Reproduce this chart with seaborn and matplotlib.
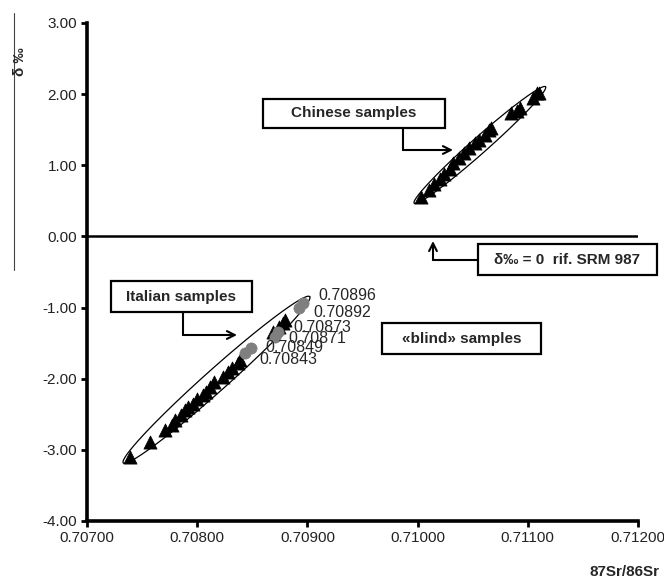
import numpy as np
import pandas as pd
import seaborn as sns
import matplotlib.pyplot as plt
from matplotlib.lines import Line2D
from matplotlib.patches import Rectangle

# values
chinese_sr = [0.71003, 0.71010, 0.71015, 0.71020, 0.71024, 0.71029, 0.71032, 0.71038,
              0.71042, 0.71047, 0.71052, 0.71056, 0.71061, 0.71065, 0.71067, 0.71085,
              0.71090, 0.71093, 0.71105, 0.71108, 0.71110]
chinese_delta = [0.55, 0.65, 0.74, 0.81, 0.88, 0.95, 1.03, 1.10, 1.17, 1.24, 1.31,
                 1.35, 1.42, 1.49, 1.53, 1.73, 1.77, 1.80, 1.95, 2.01, 2.02]

italian_sr = [0.70739, 0.70757, 0.70771, 0.70777, 0.70780, 0.70785, 0.70789, 0.70792,
              0.70796, 0.70800, 0.70805, 0.70808, 0.70812, 0.70815, 0.70823, 0.70828,
              0.70832, 0.70837, 0.70839, 0.70869, 0.70874, 0.70880, 0.70878]
italian_delta = [-3.10, -2.89, -2.72, -2.65, -2.58, -2.51, -2.44, -2.40, -2.35, -2.28,
                 -2.23, -2.19, -2.12, -2.05, -1.98, -1.91, -1.85, -1.78, -1.74, -1.35,
                 -1.28, -1.18, -1.21]

blind_sr = [0.70896, 0.70892, 0.70873, 0.70871, 0.70849, 0.70843]
blind_delta = [-0.93, -1.01, -1.35, -1.42, -1.57, -1.64]
blind_labels = ['0.70896', '0.70892', '0.70873', '0.70871', '0.70849', '0.70843']

x_ticks = [0.707, 0.708, 0.709, 0.710, 0.711, 0.712]
y_ticks = [-4, -3, -2, -1, 0, 1, 2, 3]

# label offsets (points) for the blind sample values
label_offsets = [(11, 5), (11, -3), (11, 3.5), (9.5, -0.7), (10, 0.7), (11, -4.3)]

sns.set_style('white')
plt.rcParams['font.family'] = ['Liberation Sans', 'DejaVu Sans']
plt.rcParams['axes.unicode_minus'] = False

W, H = 664, 579
fig = plt.figure(figsize=(W / 100, H / 100), dpi=100)
ax = fig.add_axes([87 / W, 1 - 521 / H, 551 / W, 498 / H])
ax.set_xlim(0.707, 0.712)
ax.set_ylim(-4, 3)


def fp(x, y):
    # pixel position in the figure -> figure fraction
    return x / W, 1 - y / H


samples = pd.DataFrame({'sr': chinese_sr + italian_sr,
                        'delta': chinese_delta + italian_delta})
blind = pd.DataFrame({'sr': blind_sr, 'delta': blind_delta})

sns.scatterplot(data=samples, x='sr', y='delta', marker='^', s=90, color='black',
                edgecolor='black', linewidth=0.5, ax=ax, zorder=3)
sns.scatterplot(data=blind, x='sr', y='delta', marker='o', s=65, color='#7f7f7f',
                edgecolor='#7f7f7f', linewidth=0.5, ax=ax, zorder=4)

for (x, y), lab, off in zip(zip(blind_sr, blind_delta), blind_labels, label_offsets):
    ax.annotate(lab, (x, y), xytext=off, textcoords='offset points',
                ha='left', va='center', fontsize=11.5, zorder=5)

ax.axhline(0, color='black', lw=1.8, zorder=2)


def draw_ellipse(xs, ys, pad, half_w):
    pts = ax.transData.transform(np.column_stack([xs, ys]))
    lo = pts[np.argmin(pts[:, 0])]
    hi = pts[np.argmax(pts[:, 0])]
    c = (lo + hi) / 2
    u = (hi - lo) / np.linalg.norm(hi - lo)
    n = np.array([-u[1], u[0]])
    a = np.linalg.norm(hi - lo) / 2 + pad
    t = np.linspace(0, 2 * np.pi, 300)
    ring = c + np.outer(a * np.cos(t), u) + np.outer(half_w * np.sin(t), n)
    ring = ax.transData.inverted().transform(ring)
    ax.plot(ring[:, 0], ring[:, 1], color='black', lw=0.9, zorder=2)


draw_ellipse(chinese_sr, chinese_delta, 9, 8)
draw_ellipse(italian_sr + blind_sr, italian_delta + blind_delta, 9, 11)

ax.set_xticks(x_ticks)
ax.set_xticklabels([f'{v:.5f}' for v in x_ticks])
ax.set_yticks(y_ticks)
ax.set_yticklabels([f'{v:.2f}' for v in y_ticks])
ax.tick_params(direction='out', length=4, width=2, labelsize=11, color='black',
               labelcolor='#222222', pad=3)
ax.tick_params(axis='y', left=True)
ax.tick_params(axis='x', bottom=True)
sns.despine(ax=ax)
for side in ['left', 'bottom']:
    ax.spines[side].set_linewidth(2.6)
    ax.spines[side].set_color('black')
ax.set_xlabel('')
ax.set_ylabel('')

# boxed labels
boxes = [((263, 99, 445, 128), 'Chinese samples'),
         ((478, 244, 657, 275), 'δ‰ = 0  rif. SRM 987'),
         ((111, 281, 252, 312), 'Italian samples'),
         ((382, 323, 541, 354), '«blind» samples')]
for (x0, y0, x1, y1), txt in boxes:
    fig.add_artist(Rectangle(fp(x0, y1), (x1 - x0) / W, (y1 - y0) / H,
                             transform=fig.transFigure, fill=True, facecolor='white',
                             edgecolor='black', lw=1.6, zorder=6))
    cx, cy = fp((x0 + x1) / 2, (y0 + y1) / 2)
    fig.text(cx, cy, txt, ha='center', va='center', fontsize=11, fontweight='bold',
             zorder=7)

# elbow arrows
arrows = [((403, 128), (403, 150), (453, 150)),
          ((478, 260), (433, 260), (433, 241)),
          ((183, 312), (183, 335), (237, 335))]
for start, corner, tip in arrows:
    fig.add_artist(Line2D([fp(*start)[0], fp(*corner)[0]], [fp(*start)[1], fp(*corner)[1]],
                          transform=fig.transFigure, color='black', lw=1.5))
    ax.annotate('', xy=fp(*tip), xytext=fp(*corner), xycoords='figure fraction',
                textcoords='figure fraction',
                arrowprops=dict(arrowstyle='->', lw=1.5, color='black',
                                shrinkA=0, shrinkB=0, mutation_scale=14))

# axis titles and the thin frame line at left
fig.text(20 / W, 1 - 62 / H, 'δ ‰', rotation=90, ha='center', va='center',
         fontsize=11, fontweight='bold')
fig.add_artist(Line2D([14 / W, 14 / W], [1 - 13 / H, 1 - 270 / H],
                      transform=fig.transFigure, color='#444444', lw=0.8))
fig.text(660 / W, 1 - 572 / H, '87Sr/86Sr', ha='right', va='center',
         fontsize=11, fontweight='bold')

fig.savefig('out.png', dpi=100)
